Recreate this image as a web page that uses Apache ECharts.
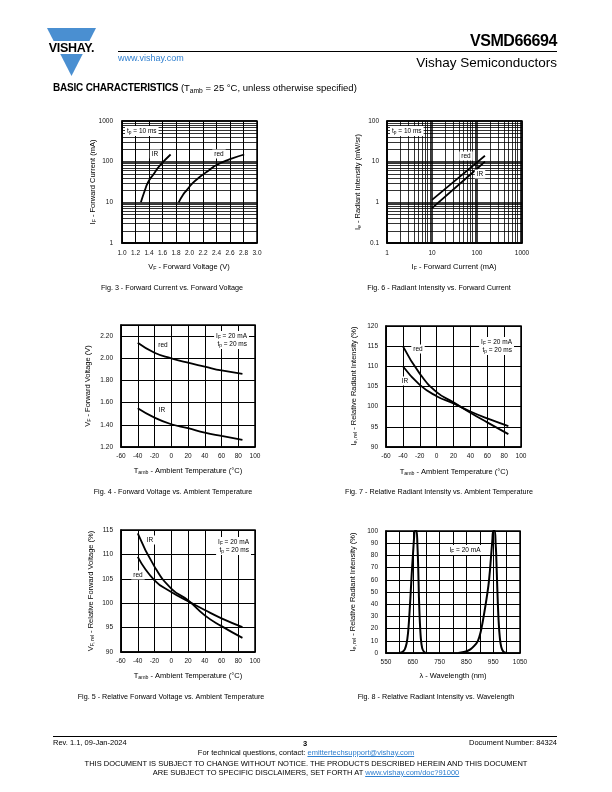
<!DOCTYPE html>
<html><head><meta charset="utf-8">
<script src="https://cdn.jsdelivr.net/npm/echarts@6/dist/echarts.min.js"></script>
<style>
html,body{margin:0;padding:0;background:#fff;}
#page{position:relative;width:612px;height:792px;overflow:hidden;font-family:'Liberation Sans',Arial,sans-serif;color:#000;}
#chart{position:absolute;left:0;top:0;width:612px;height:792px;}
.t{position:absolute;white-space:nowrap;line-height:1;}
.lnk{color:#2f7fcf;}
.u{color:#2f7fcf;text-decoration:underline;}
sub{font-size:70%;vertical-align:-2px;line-height:0;}
</style></head><body>
<div id="page">
<div id="chart"></div>
<svg class="t" style="left:44px;top:26px;" width="56" height="54">
  <polygon points="3,2 52,2 27.5,50" fill="#4a8fd1"/>
  <rect x="0" y="15" width="56" height="13" fill="#fff"/>
  <text x="27.5" y="26" text-anchor="middle" font-family="'Liberation Sans',Arial,sans-serif" font-weight="bold" font-size="12.5" letter-spacing="-0.3">VISHAY.</text>
</svg>
<div class="t" style="right:55px;top:33px;font-size:16px;font-weight:bold;letter-spacing:-0.4px;">VSMD66694</div>
<div class="t" style="left:118px;top:51px;width:439px;height:1.3px;background:#000;"></div>
<div class="t lnk" style="left:118px;top:54px;font-size:9px;">www.vishay.com</div>
<div class="t" style="right:55px;top:56px;font-size:13.5px;">Vishay Semiconductors</div>
<div class="t" style="left:53px;top:83px;font-size:9.5px;"><b style="font-size:10px;letter-spacing:-0.2px;">BASIC CHARACTERISTICS</b> (T<sub>amb</sub> = 25 °C, unless otherwise specified)</div>

<div class="t" style="left:53px;top:736px;width:504px;height:1.3px;background:#000;"></div>
<div class="t" style="left:53px;top:739px;font-size:7.5px;">Rev. 1.1, 09-Jan-2024</div>
<div class="t" style="left:303px;top:740px;font-size:7.5px;font-weight:bold;">3</div>
<div class="t" style="right:55px;top:739px;font-size:7.5px;">Document Number: 84324</div>
<div class="t" style="left:0;width:612px;text-align:center;top:749px;font-size:7.5px;">For technical questions, contact: <span class="u">emittertechsupport@vishay.com</span></div>
<div class="t" style="left:0;width:612px;text-align:center;top:760px;font-size:7.5px;">THIS DOCUMENT IS SUBJECT TO CHANGE WITHOUT NOTICE. THE PRODUCTS DESCRIBED HEREIN AND THIS DOCUMENT</div>
<div class="t" style="left:0;width:612px;text-align:center;top:769px;font-size:7.5px;">ARE SUBJECT TO SPECIFIC DISCLAIMERS, SET FORTH AT <span class="u">www.vishay.com/doc?91000</span></div>
</div>
<script>
// ---------------- DATA ----------------
// Fig. 3 - Forward current vs forward voltage
const fig3IrVoltage  = [1.28, 1.33, 1.39, 1.47, 1.56, 1.72];
const fig3IrCurrent  = [10, 18, 32, 50, 80, 150];
const fig3RedVoltage = [1.84, 1.90, 1.96, 2.05, 2.16, 2.28, 2.40, 2.60, 2.81];
const fig3RedCurrent = [10, 15, 20, 30, 43, 60, 83, 115, 150];
const fig3XTicks = [1.0, 1.2, 1.4, 1.6, 1.8, 2.0, 2.2, 2.4, 2.6, 2.8, 3.0];

// Fig. 6 - Radiant intensity vs forward current
const fig6RedCurrent   = [10, 100, 150];
const fig6RedIntensity = [1.15, 9.6, 14];
const fig6IrCurrent    = [10, 100, 150];
const fig6IrIntensity  = [0.72, 6.7, 10];

// Fig. 4 - Forward voltage vs ambient temperature
const tempPoints   = [-40, -20, 0, 20, 40, 60, 85];
const fig4RedVf    = [2.14, 2.05, 2.00, 1.96, 1.925, 1.89, 1.86];
const fig4IrVf     = [1.55, 1.465, 1.405, 1.37, 1.33, 1.30, 1.265];

// Fig. 7 - Relative radiant intensity vs ambient temperature
const fig7RedRel = [115, 108.2, 103.6, 101.1, 98.5, 96.1, 93.2];
const fig7IrRel  = [110, 105.4, 102.6, 100.8, 98.8, 97.1, 95.2];

// Fig. 5 - Relative forward voltage vs ambient temperature
const fig5IrRel  = [114.3, 107.5, 103.0, 100.6, 97.5, 95.3, 92.9];
const fig5RedRel = [109.5, 104.7, 102.3, 100.4, 98.6, 96.9, 95.1];

// Fig. 8 - Relative radiant intensity vs wavelength
const fig8RedWl  = [600, 612, 620, 627, 632, 636, 641, 646, 651, 655, 658, 664, 667, 670, 673, 676, 680, 685, 692, 700];
const fig8RedRel = [0, 1, 3, 8, 16, 27, 45, 65, 82, 95, 100, 100, 90, 72, 45, 27, 12, 4, 1, 0];
const fig8IrWl   = [820, 845, 865, 880, 893, 903, 912, 922, 932, 938, 943, 947, 950, 956, 959, 961, 965, 970, 975, 980, 988, 1000];
const fig8IrRel  = [0, 1, 3, 6, 10, 17, 27, 40, 55, 68, 82, 93, 100, 100, 90, 82, 55, 27, 12, 5, 1, 0];

// ---------------- CHART ----------------
const FONT = "'Liberation Sans', Arial, sans-serif";
const chart = echarts.init(document.getElementById('chart'), null, {renderer: 'canvas'});

function grid(l, t, w, h) {
  return {left: l, top: t, width: w, height: h, show: true, borderColor: '#000', borderWidth: 1.5,
          backgroundColor: 'transparent', containLabel: false, outerBoundsMode: 'none'};
}
function axis(gi, type, o) {
  const a = {
    gridIndex: gi, type: type,
    axisLine: {show: true, onZero: false, lineStyle: {color: '#000', width: 1.5}},
    axisTick: {show: false},
    splitLine: {show: true, lineStyle: {color: '#000', width: o.splitW || 1}},
    axisLabel: {fontSize: 6.5, color: '#111', fontFamily: FONT, margin: o.margin || 6,
                formatter: o.fmt, showMaxLabel: o.showMax !== false},
  };
  ['min', 'max', 'interval', 'logBase'].forEach(k => { if (o[k] !== undefined) a[k] = o[k]; });
  return a;
}
function zip(xs, ys) { return xs.map((x, i) => [x, ys[i]]); }
function line(gi, xs, ys, extra) {
  return Object.assign({
    type: 'line', xAxisIndex: gi, yAxisIndex: gi, data: zip(xs, ys),
    showSymbol: false, symbol: 'none', smooth: 0.5,
    lineStyle: {color: '#000', width: 1.8}, itemStyle: {color: '#000'},
    animation: false, silent: true, z: 3
  }, extra || {});
}
function logMinor(decades) {
  const out = [];
  decades.forEach(d => { for (let k = 2; k <= 9; k++) out.push(+(k * d).toPrecision(3)); });
  return out;
}
function minorLines(xVals, yVals) {
  const data = [];
  (xVals || []).forEach(v => data.push({xAxis: v}));
  (yVals || []).forEach(v => data.push({yAxis: v}));
  return {silent: true, symbol: ['none', 'none'], label: {show: false}, animation: false,
          lineStyle: {color: '#000', width: 0.8, type: 'solid', opacity: 1},
          emphasis: {disabled: true}, data: data};
}
const logFmt = v => String(Number((+v).toPrecision(3)));

const RICH = {
  m: {fontSize: 7.5, fontFamily: FONT, fill: '#000', color: '#000', lineHeight: 10, verticalAlign: 'bottom'},
  s: {fontSize: 5.2, fontFamily: FONT, fill: '#000', color: '#000', lineHeight: 6, verticalAlign: 'bottom'}
};
const RICH_S = {
  m: {fontSize: 6.5, fontFamily: FONT, fill: '#000', color: '#000', lineHeight: 8, verticalAlign: 'bottom'},
  s: {fontSize: 4.8, fontFamily: FONT, fill: '#000', color: '#000', lineHeight: 5, verticalAlign: 'bottom'}
};
function txt(x, y, text, o) {
  o = o || {};
  const al = o.align || 'center';
  const st = {text: text, fontSize: o.fs || 7.5, fontFamily: FONT, fill: '#000',
              align: al, textAlign: al, verticalAlign: 'middle', textVerticalAlign: 'middle'};
  if (o.rich) st.rich = o.rich;
  if (o.bg) { st.backgroundColor = '#fff'; st.padding = o.pad || [1, 2, 1, 2]; }
  return {type: 'text', x: x, y: y, rotation: o.rot || 0, z: 100, silent: true, style: st};
}
const R90 = Math.PI / 2;

const option = {
  backgroundColor: '#fff',
  animation: false,
  grid: [
    grid(122, 121, 135, 122),   // Fig 3
    grid(387, 121, 135, 122),   // Fig 6
    grid(121, 325, 134, 122),   // Fig 4
    grid(386, 326, 135, 121),   // Fig 7
    grid(121, 530, 134, 122),   // Fig 5
    grid(386, 531, 134, 122)    // Fig 8
  ],
  xAxis: [
    axis(0, 'value', {min: fig3XTicks[0], max: fig3XTicks[fig3XTicks.length - 1], interval: 0.2, fmt: v => (+v).toFixed(1), margin: 7}),
    axis(1, 'log', {min: 1, max: 1000, logBase: 10, fmt: logFmt, splitW: 1.5, margin: 7}),
    axis(2, 'value', {min: -60, max: 100, interval: 20}),
    axis(3, 'value', {min: -60, max: 100, interval: 20}),
    axis(4, 'value', {min: -60, max: 100, interval: 20}),
    axis(5, 'value', {min: 550, max: 1050, interval: 50, fmt: v => ((v - 550) % 100 === 0 ? String(v) : '')})
  ],
  yAxis: [
    axis(0, 'log', {min: 1, max: 1000, logBase: 10, fmt: logFmt, splitW: 1.5, margin: 9}),
    axis(1, 'log', {min: 0.1, max: 100, logBase: 10, fmt: logFmt, splitW: 1.5, margin: 8}),
    axis(2, 'value', {min: 1.2, max: 2.3, interval: 0.2, fmt: v => (+v).toFixed(2), showMax: false, margin: 8}),
    axis(3, 'value', {min: 90, max: 120, interval: 5, margin: 8}),
    axis(4, 'value', {min: 90, max: 115, interval: 5, margin: 8}),
    axis(5, 'value', {min: 0, max: 100, interval: 10, margin: 8})
  ],
  series: [
    line(0, fig3IrVoltage, fig3IrCurrent, {markLine: minorLines(null, logMinor([1, 10, 100]))}),
    line(0, fig3RedVoltage, fig3RedCurrent),
    line(1, fig6RedCurrent, fig6RedIntensity, {smooth: false, markLine: minorLines(logMinor([1, 10, 100]), logMinor([0.1, 1, 10]))}),
    line(1, fig6IrCurrent, fig6IrIntensity, {smooth: false}),
    line(2, tempPoints, fig4RedVf),
    line(2, tempPoints, fig4IrVf),
    line(3, tempPoints, fig7RedRel),
    line(3, tempPoints, fig7IrRel),
    line(4, tempPoints, fig5IrRel),
    line(4, tempPoints, fig5RedRel),
    line(5, fig8RedWl, fig8RedRel, {smooth: 0.3, lineStyle: {color: '#000', width: 2}}),
    line(5, fig8IrWl, fig8IrRel, {smooth: 0.3, lineStyle: {color: '#000', width: 2}})
  ],
  graphic: [
    // Fig 3
    txt(125, 131, '{m|t}{s|p}{m| = 10 ms}', {rich: RICH_S, align: 'left', bg: true}),
    txt(155, 154, 'IR', {fs: 6.5, bg: true}),
    txt(219, 154, 'red', {fs: 6.5, bg: true}),
    txt(189, 266, '{m|V}{s|F}{m| - Forward Voltage (V)}', {rich: RICH}),
    txt(92, 182, '{m|I}{s|F}{m| - Forward Current (mA)}', {rich: RICH, rot: R90}),
    txt(172, 288, 'Fig. 3 - Forward Current vs. Forward Voltage', {fs: 7.2}),
    // Fig 6
    txt(390, 131, '{m|t}{s|p}{m| = 10 ms}', {rich: RICH_S, align: 'left', bg: true}),
    txt(466, 156, 'red', {fs: 6.5, bg: true}),
    txt(480, 174, 'IR', {fs: 6.5, bg: true}),
    txt(454, 266, '{m|I}{s|F}{m| - Forward Current (mA)}', {rich: RICH}),
    txt(357, 182, '{m|I}{s|e}{m| - Radiant Intensity (mW/sr)}', {rich: RICH, rot: R90}),
    txt(439, 288, 'Fig. 6 - Radiant Intensity vs. Forward Current', {fs: 7.2}),
    // Fig 4
    txt(249, 340, '{m|I}{s|F}{m| = 20 mA}\n{m|t}{s|p}{m| = 20 ms}', {rich: RICH_S, align: 'right', bg: true}),
    txt(163, 345, 'red', {fs: 6.5, bg: true}),
    txt(162, 410, 'IR', {fs: 6.5, bg: true}),
    txt(188, 470, '{m|T}{s|amb}{m| - Ambient Temperature (°C)}', {rich: RICH}),
    txt(87, 386, '{m|V}{s|F}{m| - Forward Voltage (V)}', {rich: RICH, rot: R90}),
    txt(173, 492, 'Fig. 4 - Forward Voltage vs. Ambient Temperature', {fs: 7.2}),
    // Fig 7
    txt(514, 346, '{m|I}{s|F}{m| = 20 mA}\n{m|t}{s|p}{m| = 20 ms}', {rich: RICH_S, align: 'right', bg: true}),
    txt(418, 349, 'red', {fs: 6.5, bg: true}),
    txt(405, 381, 'IR', {fs: 6.5, bg: true}),
    txt(454, 471, '{m|T}{s|amb}{m| - Ambient Temperature (°C)}', {rich: RICH}),
    txt(353, 386, '{m|I}{s|e, rel}{m| - Relative Radiant Intensity (%)}', {rich: RICH, rot: R90}),
    txt(439, 492, 'Fig. 7 - Relative Radiant Intensity vs. Ambient Temperature', {fs: 7.2}),
    // Fig 5
    txt(251, 546, '{m|I}{s|F}{m| = 20 mA}\n{m|t}{s|p}{m| = 20 ms}', {rich: RICH_S, align: 'right', bg: true}),
    txt(150, 540, 'IR', {fs: 6.5, bg: true}),
    txt(138, 575, 'red', {fs: 6.5, bg: true}),
    txt(188, 675, '{m|T}{s|amb}{m| - Ambient Temperature (°C)}', {rich: RICH}),
    txt(90, 591, '{m|V}{s|F, rel}{m| - Relative Forward Voltage (%)}', {rich: RICH, rot: R90}),
    txt(171, 697, 'Fig. 5 - Relative Forward Voltage vs. Ambient Temperature', {fs: 7.2}),
    // Fig 8
    txt(465, 550, '{m|I}{s|F}{m| = 20 mA}', {rich: RICH_S, bg: true}),
    txt(453, 676, 'λ - Wavelength (nm)', {fs: 7.5}),
    txt(352, 592, '{m|I}{s|e, rel}{m| - Relative Radiant Intensity (%)}', {rich: RICH, rot: R90}),
    txt(436, 697, 'Fig. 8 - Relative Radiant Intensity vs. Wavelength', {fs: 7.2})
  ]
};
chart.setOption(option);
</script>
</body></html>
